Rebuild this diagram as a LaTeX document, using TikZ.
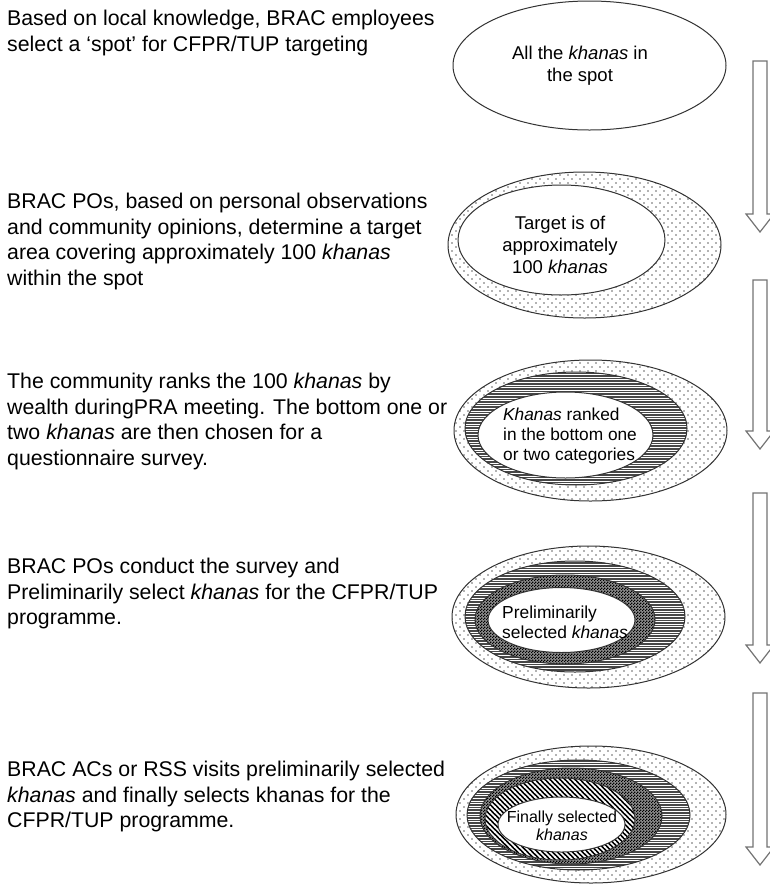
\documentclass[tikz,border=0pt]{standalone}
\usepackage{fontspec}
\setmainfont{Liberation Sans}
\usetikzlibrary{patterns}

\pgfdeclarepatternformonly{sparse dots}{\pgfqpoint{-1pt}{-1pt}}{\pgfqpoint{8pt}{8pt}}{\pgfqpoint{8pt}{8pt}}{%
  \pgfpathcircle{\pgfqpoint{0pt}{0pt}}{0.8pt}%
  \pgfpathcircle{\pgfqpoint{4pt}{4pt}}{0.8pt}%
  \pgfusepath{fill}}
\pgfdeclarepatternformonly{dense hlines}{\pgfqpoint{-1pt}{0pt}}{\pgfqpoint{11pt}{2.6pt}}{\pgfqpoint{10pt}{2.6pt}}{%
  \pgfsetlinewidth{1.6pt}%
  \pgfpathmoveto{\pgfqpoint{-1pt}{1.3pt}}\pgfpathlineto{\pgfqpoint{11pt}{1.3pt}}%
  \pgfusepath{stroke}}
\pgfdeclarepatternformonly{fine checker}{\pgfqpoint{0pt}{0pt}}{\pgfqpoint{3pt}{3pt}}{\pgfqpoint{3pt}{3pt}}{%
  \pgfpathrectangle{\pgfqpoint{0pt}{0pt}}{\pgfqpoint{1.5pt}{1.5pt}}%
  \pgfpathrectangle{\pgfqpoint{1.5pt}{1.5pt}}{\pgfqpoint{1.5pt}{1.5pt}}%
  \pgfusepath{fill}}
\pgfdeclarepatternformonly{diag stripes}{\pgfqpoint{-1pt}{-1pt}}{\pgfqpoint{6pt}{6pt}}{\pgfqpoint{5pt}{5pt}}{%
  \pgfsetlinewidth{1.5pt}%
  \pgfpathmoveto{\pgfqpoint{-0.5pt}{5.5pt}}\pgfpathlineto{\pgfqpoint{5.5pt}{-0.5pt}}%
  \pgfusepath{stroke}}

\begin{document}
\begin{tikzpicture}
[x=1pt,y=-1pt
,desc/.style={anchor=north west,inner sep=0pt,align=left,font=\fontsize{21.3}{25.7}\selectfont}
,lbl/.style={anchor=north,inner sep=0pt,align=center,font=\fontsize{18.5}{22}\selectfont}
,lblleft/.style={lbl,anchor=north west,align=left,font=\fontsize{17.4}{20}\selectfont}
,rim/.style={draw=black!80,line width=1pt}
,plain/.style={rim,fill=white}
,dotband/.style={rim,preaction={fill=white},pattern=sparse dots,pattern color=black!60}
,lineband/.style={rim,preaction={fill=white},pattern=dense hlines,pattern color=black!72}
,checkband/.style={rim,preaction={fill=black!45},pattern=fine checker,pattern color=black}
,diagband/.style={rim,preaction={fill=black},pattern=diag stripes,pattern color=white}
,blockarr/.style={draw=black!55,line width=1.2pt,fill=white}]
\useasboundingbox (0,0) rectangle (770,887);

\path[plain] (589.5,65.5) ellipse [x radius=136.5,y radius=64.5];

\path[dotband] (584.5,245) ellipse [x radius=136.5,y radius=73];
\path[plain] (561.5,240) ellipse [x radius=103.5,y radius=55];

\path[dotband] (590.5,430.5) ellipse [x radius=136.5,y radius=70.5];
\path[lineband] (576,428.5) ellipse [x radius=111,y radius=56.5];
\path[plain] (565.5,435) ellipse [x radius=87.5,y radius=43];

\path[dotband] (588.5,617) ellipse [x radius=136.5,y radius=71];
\path[lineband] (575,616.5) ellipse [x radius=110,y radius=55.5];
\path[checkband] (565,619.5) ellipse [x radius=90,y radius=44.5];
\path[plain] (561.5,620) ellipse [x radius=73.5,y radius=32.5];

\path[dotband] (591,814.5) ellipse [x radius=135,y radius=68.5];
\path[lineband] (578.5,815) ellipse [x radius=111.5,y radius=55];
\path[checkband] (571,816) ellipse [x radius=91,y radius=48];
\path[diagband] (560,819) ellipse [x radius=75,y radius=41];
\path[plain] (561.5,824.5) ellipse [x radius=63.5,y radius=27.5];

\node[desc] (t1) at (7,9.75) {Based on local knowledge, BRAC employees\\select a ‘spot’ for CFPR/TUP targeting};
\node[desc] (t2) at (7,192.75) {BRAC POs, based on personal observations\\and community opinions, determine a target\\area covering approximately 100 \textit{khanas}\\within the spot};
\node[desc] (t3) at (7,372.75) {The community ranks the 100 \textit{khanas} by\\wealth duringPRA meeting. The bottom one or\\two \textit{khanas} are then chosen for a\\questionnaire survey.};
\node[desc] (t4) at (7,557.75) {BRAC POs conduct the survey and\\Preliminarily select \textit{khanas} for the CFPR/TUP\\programme.};
\node[desc] (t5) at (7,760.75) {BRAC ACs or RSS visits preliminarily selected\\\textit{khanas} and finally selects khanas for the\\CFPR/TUP programme.};

\node[lbl,font=\fontsize{18.5}{21.7}\selectfont] (l1) at (580,46.1) {All the \textit{khanas} in\\the spot};
\node[lbl] (l2) at (560,215.75) {Target is of\\approximately\\100 \textit{khanas}};
\node[lblleft,font=\fontsize{17.3}{20}\selectfont] (l3) at (503,407.6) {\textit{Khanas} ranked\\in the bottom one\\or two categories};
\node[lblleft] (l4) at (502,605.5) {Preliminarily\\selected \textit{khanas}};
\node[lbl,font=\fontsize{16}{18}\selectfont] (l5) at (562,810.5) {Finally selected\\\textit{khanas}};

\foreach \ya/\yb in {61/232,280/449,493/663,693/865}
  \draw[blockarr] (753,\ya) -- (767,\ya) -- (767,\yb-18) -- (774,\yb-18) -- (760,\yb) -- (746,\yb-18) -- (753,\yb-18) -- cycle;
\end{tikzpicture}
\end{document}
